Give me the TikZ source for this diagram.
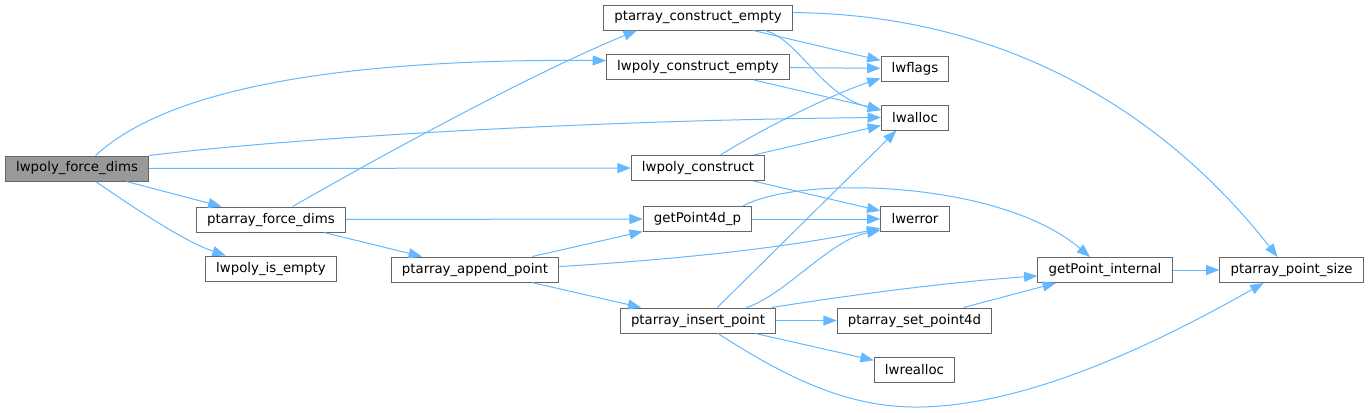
\documentclass[tikz,border=0pt]{standalone}
\usepackage{fontspec}
\setmainfont{DejaVu Sans}
\usetikzlibrary{arrows.meta}
\definecolor{edgeblue}{HTML}{63B8FF}
\definecolor{boxgray}{HTML}{666666}
\definecolor{rootgray}{HTML}{999999}

\begin{document}
\begin{tikzpicture}[
    x=0.75pt, y=-0.75pt,
   fn/.style = {rectangle, draw=boxgray, fill=white,% styles of function boxes
                minimum height=18.75pt, inner xsep=8pt, inner ysep=0pt,
                line width=0.75pt, font=\fontsize{10pt}{12pt}\selectfont},
 root/.style = {fn, fill=rootgray},% the function that is graphed
 call/.style = {draw=edgeblue, line width=0.75pt,
                -{Triangle[length=10pt,width=7.5pt]}},
                        ]
\useasboundingbox (0,0) rectangle (1368,412);
\node[root] (fd)  at (77,168.5)    {lwpoly\_force\_dims};
\node[fn]   (pfd) at (271,219.5)   {ptarray\_force\_dims};
\node[fn]   (lie) at (271,268.5)   {lwpoly\_is\_empty};
\node[fn]   (pap) at (475,269.5)   {ptarray\_append\_point};
\node[fn]   (pce) at (698,17.5)    {ptarray\_construct\_empty};
\node[fn]   (lce) at (698,67)      {lwpoly\_construct\_empty};
\node[fn]   (lc)  at (698,168)     {lwpoly\_construct};
\node[fn]   (g4d) at (697.5,219)   {getPoint4d\_p};
\node[fn]   (pip) at (698,320.5)   {ptarray\_insert\_point};
\node[fn]   (flg) at (915,68.5)    {lwflags};
\node[fn]   (alc) at (915,117.5)   {lwalloc};
\node[fn]   (err) at (915,219)     {lwerror};
\node[fn]   (sp4) at (914.5,320.5) {ptarray\_set\_point4d};
\node[fn]   (rea) at (914.5,369.5) {lwrealloc};
\node[fn]   (gpi) at (1105,270)    {getPoint\_internal};
\node[fn]   (pps) at (1291.5,270)  {ptarray\_point\_size};
\coordinate (low) at (920,407);
\foreach \a/\b in {fd/lc,fd/pfd,pfd/g4d,pfd/pap,pce/flg,lce/flg,lce/alc,lc/alc,
                   lc/err,g4d/err,pap/g4d,pap/pip,pip/sp4,pip/rea,sp4/gpi,gpi/pps}% <-- straight calls
    \draw[call] (\a) -- (\b);
\draw[call] (fd.35) .. controls (150,105) and (280,58) .. (lce.176);
\draw[call] (fd.north east) .. controls (300,137) and (600,120) .. (alc.west);
\draw[call] (fd.-35) .. controls (120,198) and (180,240) .. (lie.164);
\draw[call] (pfd.31) .. controls (400,145) and (540,70) .. (pce.192);
\draw[call] (pce.-11) .. controls (800,40) and (820,95) .. (alc.168);
\draw[call] (pce.3) .. controls (1040,15) and (1190,145) .. (pps.137);
\draw[call] (lc.30) .. controls (760,130) and (830,95) .. (flg.196);
\draw[call] (g4d.16) .. controls (800,175) and (1000,180) .. (gpi.139);
\draw[call] (pap.2) .. controls (700,258) and (800,245) .. (err.195);
\draw[call] (pip.34) -- (alc.215);
\draw[call] (pip.15) .. controls (785,295) and (830,240) .. (err.198);
\draw[call] (pip.10) .. controls (850,295) and (950,282) .. (gpi.185);
\draw[call] (pip.-33) .. controls (790,380) and (850,408) .. (low)
            .. controls (1040,405) and (1180,330) .. (pps.205);
\end{tikzpicture}
\end{document}
